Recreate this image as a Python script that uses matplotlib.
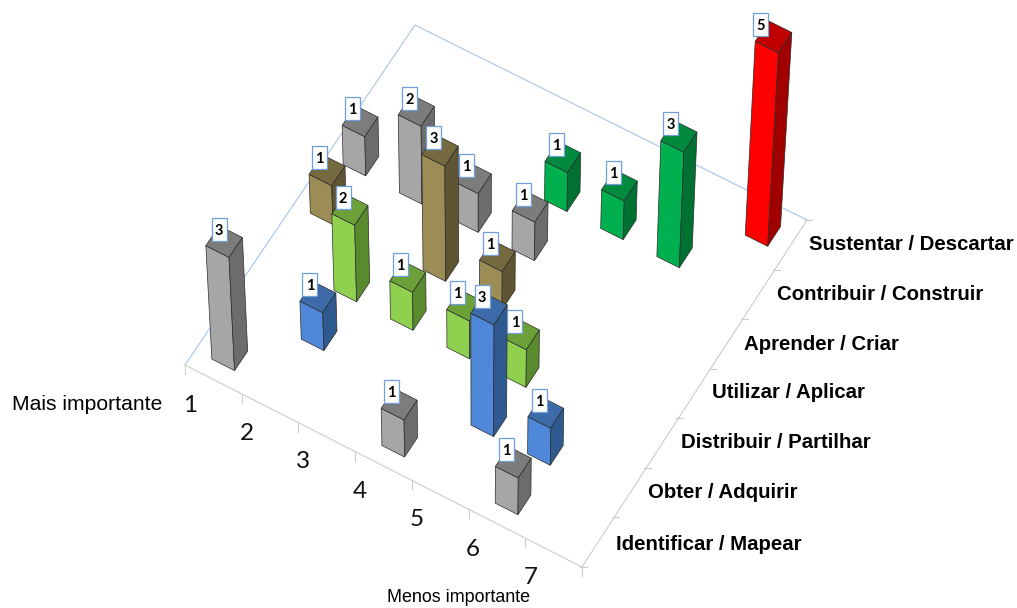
import numpy as np
import matplotlib
matplotlib.use('Agg')
import matplotlib.pyplot as plt
from matplotlib.patches import Polygon, Rectangle

categories = ['Identificar / Mapear', 'Obter / Adquirir', 'Distribuir / Partilhar',
              'Utilizar / Aplicar', 'Aprender / Criar', 'Contribuir / Construir',
              'Sustentar / Descartar']
ranks = ['1', '2', '3', '4', '5', '6', '7']

identificar = [3, 0, 0, 1, 0, 1, 0]
obter = [0, 1, 0, 0, 3, 1, 0]
distribuir = [0, 2, 1, 1, 1, 0, 0]
utilizar = [1, 0, 3, 1, 0, 0, 0]
aprender = [1, 2, 1, 1, 0, 0, 0]
contribuir = [0, 0, 0, 1, 1, 3, 0]
sustentar = [0, 0, 0, 0, 0, 0, 5]
series = [identificar, obter, distribuir, utilizar, aprender, contribuir, sustentar]

# front, top, side
gray = ('#a6a6a6', '#7c7c7c', '#6c6c6c')
blue = ('#4f88d8', '#3d6aa8', '#2f5a90')
lgreen = ('#8fd14f', '#6ba138', '#5a8a2e')
olive = ('#9c8d57', '#75693f', '#5f5533')
dgreen = ('#00b04f', '#008a3e', '#007033')
red = ('#ff0000', '#c00000', '#a00000')
colors = [gray, blue, lgreen, olive, gray, dgreen, red]

# floor corners in pixels, the chart is a hand made perspective
A = np.array([185.0, 365.0])
B = np.array([582.0, 567.0])
C = np.array([807.0, 220.0])
D = np.array([415.0, 25.0])
VP = np.array([480.0, 5400.0])
K = 0.0075
BAR = 0.4


def project(u, v, z=0):
    u = u / 7
    v = v / 7
    p = A * (1 - u) * (1 - v) + B * u * (1 - v) + C * u * v + D * (1 - u) * v
    return VP + (p - VP) * (1 + K * z)


fig = plt.figure(figsize=(10.17, 6.08), dpi=100)
ax = fig.add_axes([0, 0, 1, 1])
ax.set_xlim(0, 1017)
ax.set_ylim(608, 0)
ax.axis('off')

# floor edges
ax.plot(*zip(A, D, C), color='#a9c4e6', lw=0.8, zorder=1)
ax.plot(*zip(A, B, C), color='#cccccc', lw=0.8, zorder=1)

for i in range(8):
    p = project(i, 0)
    ax.plot([p[0], p[0]], [p[1], p[1] + 9], color='#cccccc', lw=0.8, zorder=1)
    p = project(7, i)
    ax.plot([p[0] - 2, p[0] + 5], [p[1], p[1]], color='#cccccc', lw=0.8, zorder=1)

# draw from the back to the front
bars = []
for c, row in enumerate(series):
    for r, val in enumerate(row):
        if val > 0:
            bars.append((project(r + 0.5, c + 0.5)[1], r, c, val))
bars.sort()

for depth, (_, r, c, val) in enumerate(bars):
    u0, u1 = r + 0.5 - BAR / 2, r + 0.5 + BAR / 2
    v0, v1 = c + 0.5 - BAR / 2, c + 0.5 + BAR / 2
    front = [project(u0, v0), project(u1, v0), project(u1, v0, val), project(u0, v0, val)]
    side = [project(u1, v0), project(u1, v1), project(u1, v1, val), project(u1, v0, val)]
    top = [project(u0, v0, val), project(u1, v0, val), project(u1, v1, val), project(u0, v1, val)]
    for pts, col in zip((front, top, side), colors[c]):
        ax.add_patch(Polygon(pts, closed=True, facecolor=col, edgecolor='#2b2b2b',
                             lw=0.5, zorder=2 + depth))

    base = project(r + 0.5, c + 0.5)
    peak = project(r + 0.5, c + 0.5, val)
    lx = base[0] - 6.7 + 0.015 * (base[0] - 490)
    ly = peak[1] - 12.5
    ax.add_patch(Rectangle((lx - 7.5, ly - 11.5), 15, 23, facecolor='white',
                           edgecolor='#6f9fd8', lw=0.9, zorder=50))
    ax.text(lx, ly, str(val), ha='center', va='center_baseline', fontsize=10.5,
            fontweight='bold', family='Lato', color='black', zorder=51)

rank_x = [190, 247, 303, 360, 417, 473, 531]
rank_y = [405, 433, 462, 491, 519, 549, 578]
for lab, x, y in zip(ranks, rank_x, rank_y):
    ax.text(x, y, lab, ha='center', va='center', fontsize=17.5, family='Lato', color='#111111')

cat_x = [616, 648, 681, 712, 744, 777, 809]
cat_y = [544, 493, 443, 393, 344, 295, 245]
for lab, x, y in zip(categories, cat_x, cat_y):
    ax.text(x, y, lab, ha='left', va='center', fontsize=14.7, fontweight='bold',
            family='Liberation Sans', color='black')

ax.text(12, 405, 'Mais importante', ha='left', va='center', fontsize=15.2,
        family='Liberation Sans', color='black')
ax.text(387, 598, 'Menos importante', ha='left', va='center', fontsize=12.9,
        family='Liberation Sans', color='black')

fig.savefig('out.png', dpi=100)
